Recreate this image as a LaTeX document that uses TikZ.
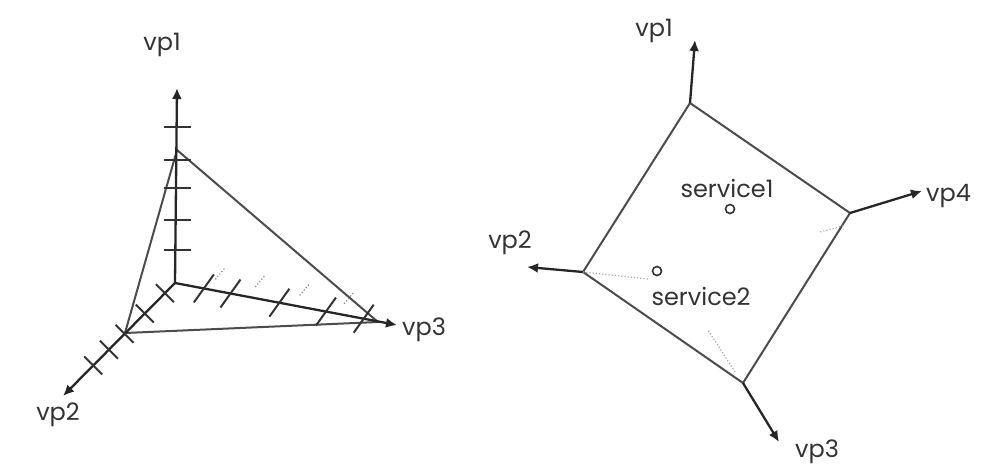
\documentclass[tikz,border=0pt]{standalone}
\usepackage{fontspec}
\setmainfont{Poppins}
\usetikzlibrary{arrows.meta,calc}
\begin{document}
\begin{tikzpicture}[x=1pt,y=-1pt,
  axis/.style={draw=black!85,line width=2.3pt,-{Latex[length=11pt,width=10pt]}},
  edge/.style={draw=black!70,line width=2pt},
  tick/.style={draw=black!80,line width=2pt},
  faint/.style={draw=black!35,line width=1.2pt,dotted},
  lab/.style={font=\fontsize{24}{28}\selectfont,text=black!80,inner sep=0pt},
  svc/.style={draw=black!80,line width=1.6pt,circle,minimum size=9pt,inner sep=0pt}]
\useasboundingbox (0,0) rectangle (1000,471);
% ---------- left diagram ----------
\coordinate (O) at (175,283);
\coordinate (V1) at (177,88);
\coordinate (V2) at (63,396);
\coordinate (V3) at (397,325);
\coordinate (A) at (177,150);
\coordinate (B) at (125,333);
\coordinate (C) at (378,322);
\draw[edge] (A) -- (B) -- (C) -- cycle;
\draw[axis] (O) -- (V1);
\draw[axis] (O) -- (V2);
\draw[axis] (O) -- (V3);
\foreach \y in {127,160,188,220,250}
  \draw[tick] (164,\y) -- (191,\y);
\foreach \t in {0.09,0.27,0.45,0.59,0.73}
  \draw[tick] ($(O)!\t!(V2)+(-9,-9)$) -- ($(O)!\t!(V2)+(9,9)$);
\foreach \t in {0.13,0.25,0.47,0.68,0.85}
  \draw[tick] ($(O)!\t!(V3)+(-10,14)$) -- ($(O)!\t!(V3)+(10,-14)$);
\foreach \t in {0.2,0.38,0.58,0.78}
  \draw[draw=black!45,line width=1.2pt,dotted] ($(O)!\t!(V3)+(-4,-12)$) -- ($(O)!\t!(V3)+(6,-24)$);
\node[lab] (l1) at (162,45) {vp1};
\node[lab] (l2) at (58,415) {vp2};
\node[lab] (l3) at (424,330) {vp3};
% ---------- right diagram ----------
\coordinate (T) at (690,103);
\coordinate (R) at (850,213);
\coordinate (L) at (583,272);
\coordinate (Bt) at (743,383);
\coordinate (W1) at (695,40);
\coordinate (W2) at (527,267);
\coordinate (W3) at (779,442);
\coordinate (W4) at (922,191);
\draw[edge] (T) -- (R) -- (Bt) -- (L) -- cycle;
\draw[axis] (T) -- (W1);
\draw[axis] (L) -- (W2);
\draw[axis] (Bt) -- (W3);
\draw[axis] (R) -- (W4);
\draw[faint] (L) -- (648,279);
\draw[faint] (735,372) -- (708,330);
\draw[faint] (843,226) -- (820,232);
\node[lab] (r1) at (654,31) {vp1};
\node[lab] (r2) at (510,243) {vp2};
\node[lab] (r3) at (817,452) {vp3};
\node[lab,anchor=west] (r4) at (926,196) {vp4};
\node[svc] (s1) at (730,209) {};
\node[lab] (t1) at (727,188) {service1};
\node[svc] (s2) at (657,271) {};
\node[lab] (t2) at (701,296) {service2};
\end{tikzpicture}
\end{document}
